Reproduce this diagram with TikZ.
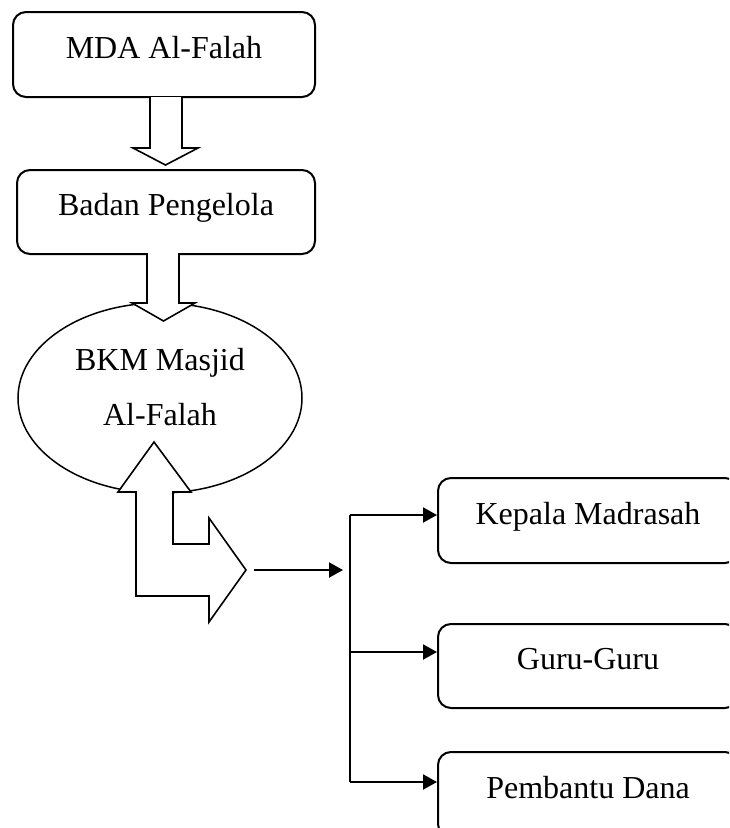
\documentclass[tikz,border=0pt]{standalone}
\usepackage{fontspec}
\setmainfont{Liberation Serif}
\usepackage{tikz}
\usetikzlibrary{shapes.geometric, arrows.meta, positioning, calc}
\tikzstyle{unit} = [rectangle, rounded corners=13pt, draw=black, line width=2pt, fill=white, align=center, text height=22pt, text depth=15pt, font=\fontsize{32}{55}\selectfont]
\tikzstyle{oval} = [ellipse, draw=black, line width=1.5pt, minimum width=284pt, minimum height=190pt, inner sep=0pt]
\tikzstyle{block} = [draw=black, line width=1.6pt, fill=white, line join=miter]
\tikzstyle{arrow} = [line width=2pt, -{Triangle[length=14pt,width=15pt]}]

\begin{document}
\begin{tikzpicture}[x=1pt, y=-1pt]
\useasboundingbox (0,0) rectangle (729,828);
\clip (0,0) rectangle (729,828);

\node [unit, minimum width=302pt, minimum height=85pt] (mda) at (164,54.5) {MDA Al-Falah};
\node [unit, minimum width=298pt, minimum height=84pt, below=71pt of mda, xshift=2pt] (badan) {Badan Pengelola};
\node [oval] (bkm) at (160,398) {};
\node [align=center, font=\fontsize{32}{55}\selectfont] (bkmtext) at ([yshift=11pt]bkm.center) {BKM Masjid\\Al-Falah};

\node [unit, minimum width=300pt, minimum height=85pt] (kepala) at (588,520.5) {Kepala Madrasah};
\node [unit, minimum width=300pt, minimum height=84pt, below=59pt of kepala] (guru) {Guru-Guru};
\node [unit, minimum width=300pt, minimum height=85pt, below=42pt of guru] (dana) {Pembantu Dana};

% block arrows
\draw [block] (150,97) -- (150,148) -- (133,148) -- (165.5,165) -- (198,148) -- (182,148) -- (182,97);
\draw [block] (147,253) -- (147,303) -- (132,303) -- (163.5,321) -- (195,303) -- (179,303) -- (179,253);
\draw [block] (118,492) -- (154,442) -- (191,492) -- (173,492) -- (173,544) -- (209,544) -- (209,518)
  -- (246,570) -- (209,622) -- (209,596) -- (136,596) -- (136,492) -- cycle;

% connectors
\coordinate (out) at (254,570);
\coordinate (hub) at (343,570);
\coordinate (b1) at (350,515);
\coordinate (b2) at (350,652);
\coordinate (b3) at (350,782);
\draw [arrow] (out) -- (hub);
\draw [line width=2pt] (b1) -- (b3);
\draw [arrow] (b1) -- (b1 -| kepala.west);
\draw [arrow] (b2) -- (b2 -| guru.west);
\draw [arrow] (b3) -- (b3 -| dana.west);
\end{tikzpicture}
\end{document}
